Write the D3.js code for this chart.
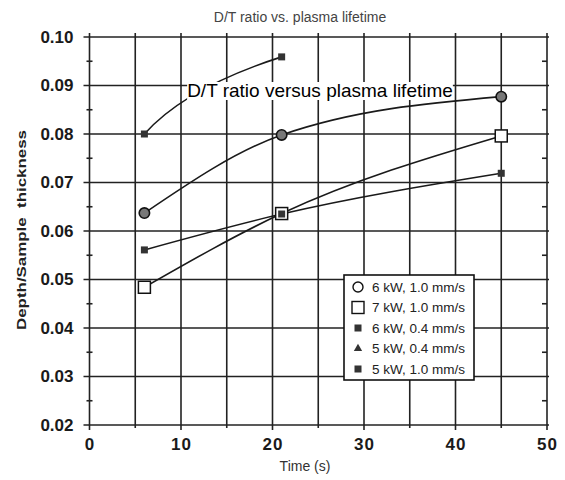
<!DOCTYPE html>
<html>
<head>
<meta charset="utf-8">
<script src="https://cdn.jsdelivr.net/npm/d3@7"></script>
<style>
  body { margin: 0; background: #fff; }
  svg { font-family: "Liberation Sans", Arial, sans-serif; }
  .grid line { stroke: #222; stroke-width: 1.6; }
  .tickLabel { font-weight: bold; font-size: 17px; fill: #1a1a1a; }
</style>
</head>
<body>
<div id="chart"></div>
<script>
// data
const timeTicks = [0, 10, 20, 30, 40, 50];
const ratioTicks = [0.02, 0.03, 0.04, 0.05, 0.06, 0.07, 0.08, 0.09, 0.10];
const seriesNames = ["6 kW, 1.0 mm/s", "7 kW, 1.0 mm/s", "6 kW, 0.4 mm/s", "5 kW, 0.4 mm/s", "5 kW, 1.0 mm/s"];
const seriesSymbols = ["circle", "square", "smallSquare", "triangle", "smallSquare"];
const times6kW10 = [6, 21, 45];
const ratios6kW10 = [0.0637, 0.0798, 0.0877];
const times7kW10 = [6, 21, 45];
const ratios7kW10 = [0.0484, 0.0636, 0.0796];
const times6kW04 = [6, 21, 45];
const ratios6kW04 = [0.0561, 0.0635, 0.0719];
const times5kW04 = [];
const ratios5kW04 = [];
const times5kW10 = [6, 21];
const ratios5kW10 = [0.0800, 0.0959];

// bowed curve for two-point series (hand drawn look in the original)
function curveBow(context) {
    let pts = [];
    return {
        lineStart() { pts = []; },
        lineEnd() {
            if (pts.length === 0) return;
            context.moveTo(pts[0][0], pts[0][1]);
            for (let i = 1; i < pts.length; i++) {
                let p = pts[i - 1], q = pts[i];
                context.quadraticCurveTo(p[0] + 0.3 * (q[0] - p[0]), p[1] + 0.6 * (q[1] - p[1]), q[0], q[1]);
            }
        },
        areaStart() {}, areaEnd() {},
        point(x, y) { pts.push([x, y]); }
    };
}

class DTChart {
    constructor() {
        this.width = 565;
        this.height = 480;
        this.margin = {top: 37, right: 18, bottom: 55, left: 89.5};

        this.svg = d3.select("#chart").append("svg")
            .attr("width", this.width)
            .attr("height", this.height);

        this.xScale = d3.scaleLinear().domain([0, 50])
            .range([this.margin.left, this.width - this.margin.right]);
        this.yScale = d3.scaleLinear().domain([0.02, 0.10])
            .range([this.height - this.margin.bottom, this.margin.top]);
    }

    drawFrame() {
        let x = this.xScale, y = this.yScale;
        let x0 = x.range()[0], x1 = x.range()[1];
        let y0 = y.range()[0], y1 = y.range()[1];

        let grid = this.svg.append("g").attr("class", "grid");
        // vertical grid every 5 s, with ticks below the axis
        grid.selectAll(".vline").data(d3.range(0, 51, 5)).enter().append("line")
            .attr("x1", d => x(d)).attr("x2", d => x(d))
            .attr("y1", y1 - 4).attr("y2", d => d % 10 === 0 ? y0 + 5 : y0 + 3);
        // horizontal grid
        grid.selectAll(".hline").data(ratioTicks).enter().append("line")
            .attr("x1", x0 - 6).attr("x2", x1 + 2)
            .attr("y1", d => y(d)).attr("y2", d => y(d));

        // minor y ticks on both sides
        let minor = d3.range(0.025, 0.1, 0.01);
        grid.selectAll(".minL").data(minor).enter().append("line")
            .attr("x1", x0 - 3).attr("x2", x0 + 3)
            .attr("y1", d => y(d)).attr("y2", d => y(d));
        grid.selectAll(".minR").data(minor).enter().append("line")
            .attr("x1", x1 - 5).attr("x2", x1)
            .attr("y1", d => y(d)).attr("y2", d => y(d));

        // tick labels via axes
        let yAxis = d3.axisLeft(y).tickValues(ratioTicks).tickFormat(d3.format(".2f")).tickSize(0).tickPadding(16);
        let gy = this.svg.append("g").attr("transform", "translate(" + x0 + ",0)").call(yAxis);
        gy.select(".domain").remove();
        gy.selectAll("text").attr("class", "tickLabel").attr("font-family", null).attr("font-size", null);

        let xAxis = d3.axisBottom(x).tickValues(timeTicks).tickFormat(d3.format("d")).tickSize(0).tickPadding(13);
        let gx = this.svg.append("g").attr("transform", "translate(0," + y0 + ")").call(xAxis);
        gx.select(".domain").remove();
        gx.selectAll("text").attr("class", "tickLabel").attr("font-family", null).attr("font-size", null)
            .style("letter-spacing", "1px");

        // axis labels and titles
        this.svg.append("text")
            .text("Time (s)")
            .attr("x", 305).attr("y", 471)
            .style("text-anchor", "middle")
            .style("font-size", "14px").style("fill", "#333");

        this.svg.append("text")
            .text("Depth/Sample  thickness")
            .style("text-anchor", "middle")
            .style("font-size", "13.5px").style("font-weight", "bold").style("fill", "#222")
            .style("white-space", "pre")
            .attr("textLength", 200).attr("lengthAdjust", "spacingAndGlyphs")
            .attr("transform", "translate(26,230) rotate(-90)");

        this.svg.append("text")
            .text("D/T ratio vs. plasma lifetime")
            .attr("x", 300).attr("y", 22)
            .style("text-anchor", "middle")
            .style("font-size", "14px").style("fill", "#444");
    }

    drawSymbol(g, kind, cx, cy) {
        if (kind === "circle") {
            g.append("circle").attr("cx", cx).attr("cy", cy).attr("r", 5.2)
                .attr("fill", "#777").attr("stroke", "#111").attr("stroke-width", 1.6);
        } else if (kind === "square") {
            g.append("rect").attr("x", cx - 6).attr("y", cy - 6).attr("width", 12).attr("height", 12)
                .attr("fill", "#fff").attr("stroke", "#111").attr("stroke-width", 1.5);
        } else if (kind === "smallSquare") {
            g.append("rect").attr("x", cx - 3.5).attr("y", cy - 3.5).attr("width", 7).attr("height", 7)
                .attr("fill", "#333");
        } else if (kind === "triangle") {
            g.append("path").attr("d", d3.symbol(d3.symbolTriangle, 30)())
                .attr("transform", "translate(" + cx + "," + cy + ")").attr("fill", "#333");
        }
    }

    drawSeries() {
        let series = [
            {t: times6kW10, r: ratios6kW10, sym: seriesSymbols[0]},
            {t: times7kW10, r: ratios7kW10, sym: seriesSymbols[1]},
            {t: times6kW04, r: ratios6kW04, sym: seriesSymbols[2]},
            {t: times5kW04, r: ratios5kW04, sym: seriesSymbols[3]},
            {t: times5kW10, r: ratios5kW10, sym: seriesSymbols[4]}
        ];
        let smooth = d3.line()
            .x(d => this.xScale(d[0]))
            .y(d => this.yScale(d[1]))
            .curve(d3.curveMonotoneX);
        let bowed = d3.line()
            .x(d => this.xScale(d[0]))
            .y(d => this.yScale(d[1]))
            .curve(curveBow);

        let g = this.svg.append("g");
        series.forEach(s => {
            let pts = s.t.map((t, i) => [t, s.r[i]]);
            if (pts.length < 2) return;
            g.append("path").datum(pts)
                .attr("d", pts.length === 2 ? bowed : smooth)
                .attr("fill", "none").attr("stroke", "#1a1a1a").attr("stroke-width", 1.6);
        });
        series.forEach(s => {
            s.t.forEach((t, i) => this.drawSymbol(g, s.sym, this.xScale(t), this.yScale(s.r[i])));
        });
    }

    drawLegend() {
        let lg = this.svg.append("g").attr("transform", "translate(344,275)");
        lg.append("rect").attr("width", 130).attr("height", 105)
            .attr("fill", "#fff").attr("stroke", "#111").attr("stroke-width", 1.6);
        seriesNames.forEach((name, i) => {
            let cy = 12 + i * 20.5;
            let sym = seriesSymbols[i];
            if (sym === "circle") {
                lg.append("circle").attr("cx", 14).attr("cy", cy).attr("r", 5)
                    .attr("fill", "#fff").attr("stroke", "#111").attr("stroke-width", 1.4);
            } else if (sym === "square") {
                lg.append("rect").attr("x", 8).attr("y", cy - 6).attr("width", 12).attr("height", 12)
                    .attr("fill", "#fff").attr("stroke", "#111").attr("stroke-width", 1.4);
            } else {
                this.drawSymbol(lg, sym, 14, cy);
            }
            lg.append("text").text(name)
                .attr("x", 28).attr("y", cy + 4.5)
                .style("font-size", "12px").style("fill", "#222")
                .attr("textLength", 93).attr("lengthAdjust", "spacingAndGlyphs");
        });
    }

    drawOverlay() {
        let t = this.svg.append("text")
            .text("D/T ratio versus plasma lifetime")
            .attr("x", 320).attr("y", 97)
            .style("text-anchor", "middle")
            .style("font-family", "Arial, 'Liberation Sans', sans-serif")
            .style("font-size", "19px").style("fill", "#000");
        let bb = t.node().getBBox();
        this.svg.insert("rect", () => t.node())
            .attr("x", bb.x).attr("y", bb.y + 2)
            .attr("width", bb.width).attr("height", bb.height - 3)
            .attr("fill", "#fff");
    }
}

let chart = new DTChart();
chart.drawFrame();
chart.drawSeries();
chart.drawLegend();
chart.drawOverlay();
</script>
</body>
</html>
